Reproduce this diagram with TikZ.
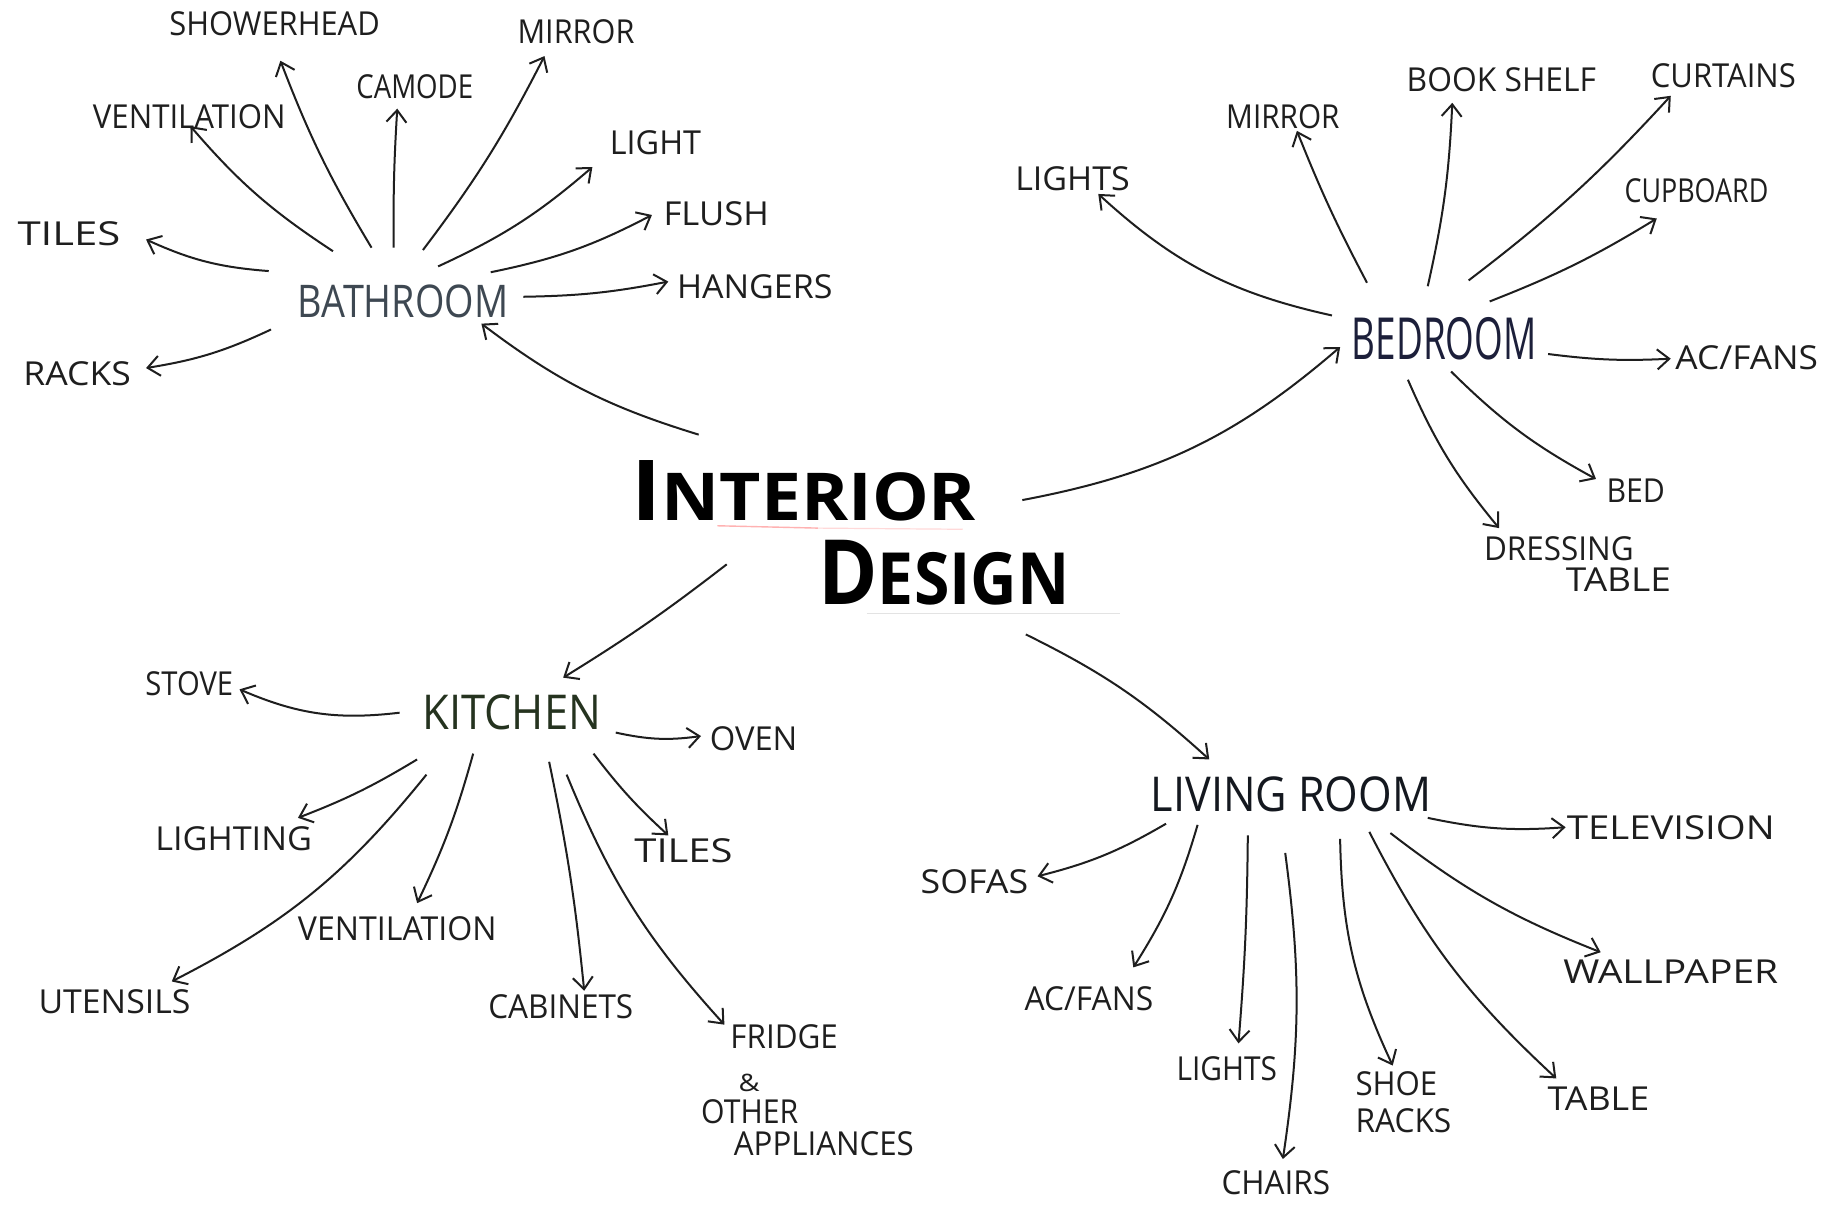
\documentclass[tikz,border=0pt]{standalone}
\usepackage{fontspec}
\usepackage{graphicx}
\usetikzlibrary{arrows.meta,calc}
\setmainfont{Open Sans}
\newdimen\unitpx \unitpx=1.168pt
\newcommand\lw[2]{\resizebox{#1\unitpx}{\height}{#2}}
\definecolor{inkc}{HTML}{1E1E1E}
\definecolor{linec}{HTML}{1E1E1E}
\definecolor{bathc}{HTML}{3E4852}
\definecolor{bedc}{HTML}{1C1F3A}
\definecolor{kitc}{HTML}{25331F}
\definecolor{livc}{HTML}{14181F}
\tikzset{
  lbl/.style={inner sep=0pt, text=inkc, font=\fontsize{33}{32}\selectfont},
  mlbl/.style={lbl, align=left, anchor=north west},
  hub/.style={inner sep=0pt},
  ttl/.style={inner sep=0pt, text=black, font=\bfseries},
  arr/.style={draw=linec, line width=2pt, -{Straight Barb[length=12pt,width=20pt]}}
}
\begin{document}
\begin{tikzpicture}[x=1.168pt,y=-1.168pt]
\useasboundingbox[fill=white] (0,0) rectangle (1568,1032);

% faint strokes under the title
\draw[red!30, line width=1.4pt] (614,450) -- (700,452);
\draw[red!15, line width=1.2pt] (700,452) -- (824,453);
\draw[gray!22, line width=1.5pt] (742,525) -- (959,525);

% title
\node[ttl] (t1) at (688,420) {\lw{295}{{\fontsize{84}{84}\selectfont I}{\fontsize{66}{66}\selectfont NTERIOR}}};
\node[ttl] (t2) at (808,490) {\lw{215}{{\fontsize{90}{90}\selectfont D}{\fontsize{72}{72}\selectfont ESIGN}}};

% hubs
\node[hub, text=bathc, font=\fontsize{45}{45}\selectfont] (bath) at (345,258) {\lw{180}{BATHROOM}};
\node[hub, text=bedc, font=\fontsize{58}{58}\selectfont] (bed) at (1236,290) {\lw{158}{BEDROOM}};
\node[hub, text=kitc, font=\fontsize{48}{48}\selectfont] (kit) at (438,610) {\lw{153}{KITCHEN}};
\node[hub, text=livc, font=\fontsize{48}{48}\selectfont] (liv) at (1105,680) {\lw{240}{LIVING ROOM}};

% bathroom labels
\node[lbl] (bshower) at (235,20) {\lw{180}{SHOWERHEAD}};
\node[lbl] (bvent) at (162,100) {\lw{165}{VENTILATION}};
\node[lbl] (bcamode) at (355,74) {\lw{100}{CAMODE}};
\node[lbl] (bmirror) at (493,27) {\lw{100}{MIRROR}};
\node[lbl] (blight) at (561,122) {\lw{78}{LIGHT}};
\node[lbl] (bflush) at (613,183) {\lw{90}{FLUSH}};
\node[lbl] (bhang) at (646,245) {\lw{133}{HANGERS}};
\node[lbl] (btiles) at (59,200) {\lw{88}{TILES}};
\node[lbl] (bracks) at (66,320) {\lw{92}{RACKS}};

% bedroom labels
\node[lbl] (rlights) at (918,153) {\lw{98}{LIGHTS}};
\node[lbl] (rmirror) at (1098,100) {\lw{97}{MIRROR}};
\node[lbl] (rbook) at (1285,68) {\lw{162}{BOOK SHELF}};
\node[lbl] (rcurt) at (1475,65) {\lw{124}{CURTAINS}};
\node[lbl] (rcup) at (1452,163) {\lw{123}{CUPBOARD}};
\node[lbl] (racf) at (1495,306) {\lw{122}{AC/FANS}};
\node[lbl] (rbed) at (1400,420) {\lw{50}{BED}};
\node[mlbl, font=\fontsize{33}{31.5}\selectfont] (rdress) at (1270,459) {\lw{128}{DRESSING}\\\hspace*{70\unitpx}\lw{90}{TABLE}};

% kitchen labels
\node[lbl] (kstove) at (162,585) {\lw{75}{STOVE}};
\node[lbl] (koven) at (645,632) {\lw{75}{OVEN}};
\node[lbl] (klight) at (200,718) {\lw{134}{LIGHTING}};
\node[lbl] (kvent) at (340,795) {\lw{170}{VENTILATION}};
\node[lbl] (kuten) at (98,857) {\lw{130}{UTENSILS}};
\node[lbl] (kcab) at (480,862) {\lw{124}{CABINETS}};
\node[lbl] (ktiles) at (585,728) {\lw{84}{TILES}};
\node[mlbl, font=\fontsize{33}{32}\selectfont] (kfridge) at (600,877) {\hspace*{25\unitpx}\lw{92}{FRIDGE}\\[11pt]\hspace*{32\unitpx}{\fontsize{24}{24}\selectfont\lw{18}{\&}}\\\lw{83}{OTHER}\\\hspace*{28\unitpx}\lw{154}{APPLIANCES}};

% living room labels
\node[lbl] (ltv) at (1430,708) {\lw{178}{TELEVISION}};
\node[lbl] (lsofa) at (834,755) {\lw{92}{SOFAS}};
\node[lbl] (lacf) at (932,855) {\lw{110}{AC/FANS}};
\node[lbl] (llights) at (1050,915) {\lw{86}{LIGHTS}};
\node[lbl] (lchairs) at (1092,1012) {\lw{93}{CHAIRS}};
\node[mlbl, font=\fontsize{33}{37}\selectfont] (lshoe) at (1160,917) {\lw{70}{SHOE}\\\lw{82}{RACKS}};
\node[lbl] (ltable) at (1368,940) {\lw{87}{TABLE}};
\node[lbl] (lwall) at (1430,832) {\lw{184}{WALLPAPER}};

% title to hubs
\draw[arr] ($(t1)+(-90,-48)$) to[bend left=10] ($(bath)+(67,19)$);
\draw[arr] ($(t1)+(187,8)$) to[bend right=15] ($(bed)+(-89,7)$);
\draw[arr] ($(t1)+(-66,63)$) to[bend left=3] ($(kit)+(44,-30)$);
\draw[arr] ($(t2)+(70,53)$) to[bend left=8] ($(liv)+(-70,-30)$);

% bathroom connectors
\draw[arr] ($(bath)+(-115,-26)$) to[bend left=10] ($(btiles)+(66,5)$);
\draw[arr] ($(bath)+(-113,24)$) to[bend left=8] ($(bracks)+(59,-5)$);
\draw[arr] ($(bath)+(-60,-43)$) to[bend left=8] ($(bvent)+(1,8)$);
\draw[arr] ($(bath)+(-27,-46)$) to[bend left=5] ($(bshower)+(5,32)$);
\draw[arr] ($(bath)+(-8,-46)$) to[bend left=2] ($(bcamode)+(-15,19)$);
\draw[arr] ($(bath)+(17,-44)$) to[bend right=5] ($(bmirror)+(-27,21)$);
\draw[arr] ($(bath)+(30,-30)$) to[bend right=8] ($(blight)+(-54,21)$);
\draw[arr] ($(bath)+(75,-25)$) to[bend right=8] ($(bflush)+(-55,1)$);
\draw[arr] ($(bath)+(103,-4)$) to[bend right=5] ($(bhang)+(-74,-4)$);

% bedroom connectors
\draw[arr] ($(bed)+(-96,-20)$) to[bend left=15] ($(rlights)+(22,13)$);
\draw[arr] ($(bed)+(-66,-48)$) to[bend left=3] ($(rmirror)+(12,12)$);
\draw[arr] ($(bed)+(-14,-45)$) to[bend right=5] ($(rbook)+(-42,20)$);
\draw[arr] ($(bed)+(21,-50)$) to[bend right=5] ($(rcurt)+(-45,17)$);
\draw[arr] ($(bed)+(39,-32)$) to[bend right=5] ($(rcup)+(-34,24)$);
\draw[arr] ($(bed)+(89,13)$) to[bend right=5] ($(racf)+(-65,1)$);
\draw[arr] ($(bed)+(6,28)$) to[bend right=8] ($(rbed)+(-34,-10)$);
\draw[arr] ($(bed)+(-31,35)$) to[bend right=8] ($(rdress.north west)+(13,-7)$);

% kitchen connectors
\draw[arr] ($(kit)+(-96,0)$) to[bend left=15] ($(kstove)+(43,5)$);
\draw[arr] ($(kit)+(89,17)$) to[bend right=10] ($(koven)+(-45,-2)$);
\draw[arr] ($(kit)+(-81,40)$) to[bend left=5] ($(klight)+(55,-18)$);
\draw[arr] ($(kit)+(-33,35)$) to[bend left=5] ($(kvent)+(17,-22)$);
\draw[arr] ($(kit)+(-73,53)$) to[bend left=12] ($(kuten)+(49,-17)$);
\draw[arr] ($(kit)+(32,42)$) to[bend left=3] ($(kcab)+(20,-14)$);
\draw[arr] ($(kit)+(70,35)$) to[bend right=5] ($(ktiles)+(-13,-13)$);
\draw[arr] ($(kit)+(47,53)$) to[bend right=10] ($(kfridge.north west)+(20,0)$);

% living room connectors
\draw[arr] ($(liv)+(117,20)$) to[bend right=8] ($(ltv)+(-90,0)$);
\draw[arr] ($(liv)+(-107,25)$) to[bend left=8] ($(lsofa)+(54,-5)$);
\draw[arr] ($(liv)+(-80,26)$) to[bend left=8] ($(lacf)+(38,-27)$);
\draw[arr] ($(liv)+(-37,35)$) to[bend left=2] ($(llights)+(10,-22)$);
\draw[arr] ($(liv)+(-5,50)$) to[bend left=8] ($(lchairs)+(6,-20)$);
\draw[arr] ($(liv)+(42,38)$) to[bend right=12] ($(lshoe.north west)+(32,-5)$);
\draw[arr] ($(liv)+(67,32)$) to[bend right=10] ($(ltable)+(-36,-17)$);
\draw[arr] ($(liv)+(85,33)$) to[bend right=8] ($(lwall)+(-60,-17)$);
\end{tikzpicture}
\end{document}
